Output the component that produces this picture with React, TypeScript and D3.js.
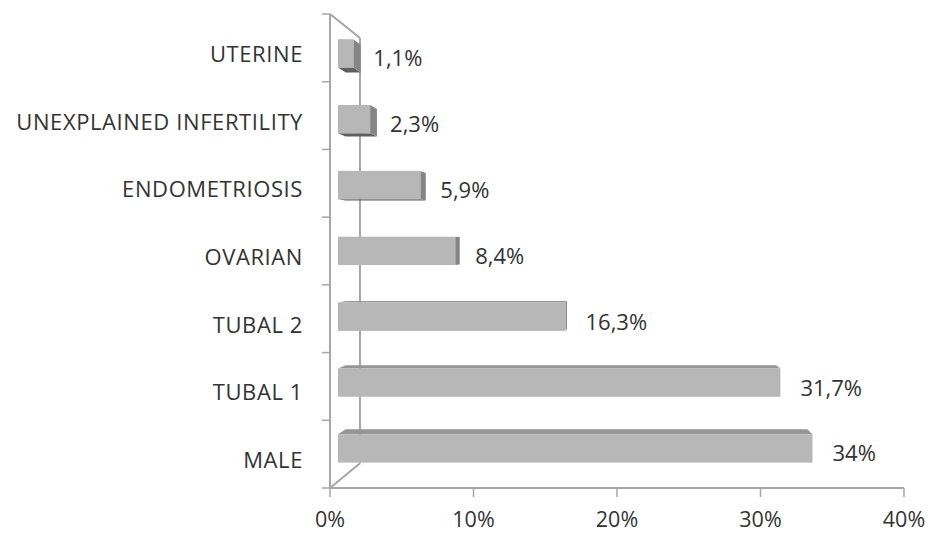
import React from "react";
import * as d3 from "d3";

const categories = ["UTERINE", "UNEXPLAINED INFERTILITY", "ENDOMETRIOSIS", "OVARIAN", "TUBAL 2", "TUBAL 1", "MALE"];
const values = [1.1, 2.3, 5.9, 8.4, 16.3, 31.7, 34];
const valueLabels = ["1,1%", "2,3%", "5,9%", "8,4%", "16,3%", "31,7%", "34%"];
const xTicks = [0, 10, 20, 30, 40];
const xTickLabels = ["0%", "10%", "20%", "30%", "40%"];

const W = 928;
const H = 533;
const VX = 621;
const VY = 247;
const S_WALL = 0.897;
const S_BAR_FRONT = 0.9725;
const S_BAR_BACK = 0.946;

const FONT = "'Open Sans', sans-serif";
const TEXT = "#333333";
const AXIS = "#a6a6a6";

function proj(x: number, y: number, s: number): [number, number] {
  return [VX + (x - VX) * s, VY + (y - VY) * s];
}
function poly(pts: [number, number][]) {
  return pts.map((p) => p[0].toFixed(2) + "," + p[1].toFixed(2)).join(" ");
}

export default function App() {
  const x = d3.scaleLinear().domain([0, 40]).range([330, 904]);
  const y = d3.scaleBand<string>().domain(categories).range([14, 488]).paddingInner(0.57).paddingOuter(0.285);
  const step = y.step();
  const x0 = x(0);

  const wallTop = proj(x0, 14, S_WALL);
  const wallBot = proj(x0, 488, S_WALL);

  return (
    <svg width={W} height={H} style={{ position: "absolute", left: 0, top: 0, background: "#fff" }}>
      <line x1={x0} y1={14} x2={wallTop[0]} y2={wallTop[1]} stroke={AXIS} strokeWidth={2} />
      <line x1={wallTop[0]} y1={wallTop[1]} x2={wallBot[0]} y2={wallBot[1]} stroke={AXIS} strokeWidth={2} />
      <line x1={x0} y1={488} x2={wallBot[0]} y2={wallBot[1]} stroke={AXIS} strokeWidth={2} />
      <line x1={x0} y1={14} x2={x0} y2={488} stroke={AXIS} strokeWidth={2} />
      {d3.range(categories.length + 1).map((i) => (
        <line key={"lt" + i} x1={x0 - 8} x2={x0} y1={14 + i * step} y2={14 + i * step} stroke={AXIS} strokeWidth={1.5} />
      ))}
      <line x1={x0} y1={488} x2={x(40)} y2={488} stroke={AXIS} strokeWidth={2} />
      {xTicks.map((t) => (
        <line key={"bt" + t} x1={x(t)} x2={x(t)} y1={488} y2={497} stroke={AXIS} strokeWidth={1.5} />
      ))}
      {xTicks.map((t, i) => (
        <text key={"bl" + t} x={x(t)} y={527} textAnchor="middle" fontFamily={FONT} fontSize={21.5} fill={TEXT}>
          {xTickLabels[i]}
        </text>
      ))}
      {categories.map((c, i) => {
        const yt = y(c)!;
        const yb = yt + y.bandwidth();
        const xa = x0;
        const xb = x(values[i]);
        const faces: React.ReactNode[] = [];
        if (yb < VY) {
          faces.push(
            <polygon key="b" points={poly([proj(xa, yb, S_BAR_FRONT), proj(xb, yb, S_BAR_FRONT), proj(xb, yb, S_BAR_BACK), proj(xa, yb, S_BAR_BACK)])} fill="#5e5e5e" />
          );
        }
        if (yt > VY) {
          faces.push(
            <polygon key="t" points={poly([proj(xa, yt, S_BAR_FRONT), proj(xb, yt, S_BAR_FRONT), proj(xb, yt, S_BAR_BACK), proj(xa, yt, S_BAR_BACK)])} fill="#959595" />
          );
        }
        if (xb < VX) {
          faces.push(
            <polygon key="r" points={poly([proj(xb, yt, S_BAR_FRONT), proj(xb, yb, S_BAR_FRONT), proj(xb, yb, S_BAR_BACK), proj(xb, yt, S_BAR_BACK)])} fill="#858585" />
          );
        }
        const f0 = proj(xa, yt, S_BAR_FRONT);
        const f1 = proj(xb, yb, S_BAR_FRONT);
        const cy = (f0[1] + f1[1]) / 2;
        return (
          <g key={c}>
            {faces}
            <rect x={f0[0]} y={f0[1]} width={f1[0] - f0[0]} height={f1[1] - f0[1]} fill="#b7b7b7" />
            <text x={f1[0] + 20} y={cy + 4} dominantBaseline="central" fontFamily={FONT} fontSize={22} fill={TEXT}>
              {valueLabels[i]}
            </text>
          </g>
        );
      })}
      {categories.map((c) => (
        <text key={"cl" + c} x={303} y={y(c)! + y.bandwidth() / 2 + 5} textAnchor="end" dominantBaseline="central" fontFamily={FONT} fontSize={22} letterSpacing={0.6} fill={TEXT}>
          {c}
        </text>
      ))}
    </svg>
  );
}
